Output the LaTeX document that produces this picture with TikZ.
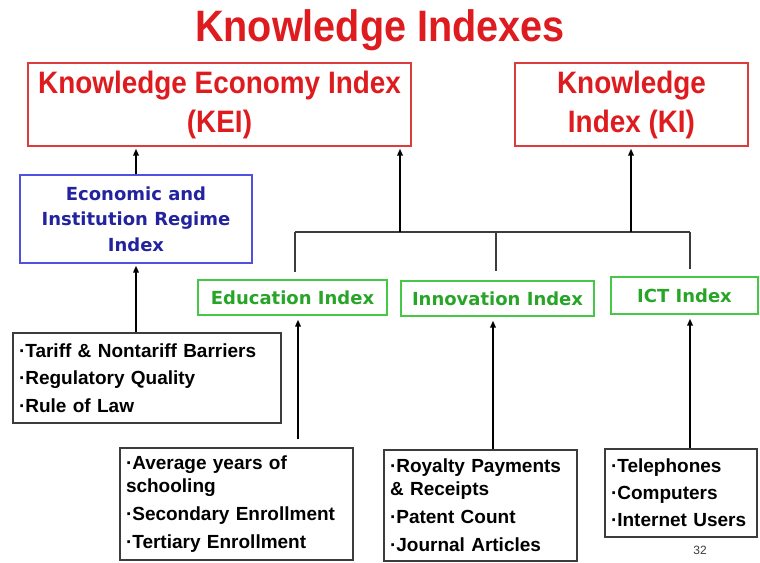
\documentclass[tikz,border=0pt]{standalone}
\usepackage{fontspec}
\setmainfont{Liberation Sans}
\newfontfamily\dvs{DejaVu Sans}
\newfontfamily\condsans{Liberation Sans}[FakeStretch=0.9]
\usetikzlibrary{arrows.meta}
\definecolor{kred}{RGB}{222,28,32}
\definecolor{kredline}{RGB}{220,60,60}
\definecolor{kblue}{RGB}{35,35,160}
\definecolor{kblueline}{RGB}{80,80,225}
\definecolor{kgreen}{RGB}{40,165,40}
\definecolor{kgreenline}{RGB}{70,200,70}
\definecolor{kgray}{RGB}{60,60,60}
\begin{document}
\begin{tikzpicture}[x=1pt,y=-1pt,
 redbox/.style={draw=kredline, line width=1.3pt, text=kred, font=\condsans\fontsize{31}{39}\selectfont\bfseries, align=center, inner sep=0pt},
 bluebox/.style={draw=kblueline, line width=1.3pt, text=kblue, font=\dvs\fontsize{18}{25.5}\selectfont\bfseries, align=center, inner sep=0pt},
 greenbox/.style={draw=kgreenline, line width=1.3pt, text=kgreen, font=\dvs\fontsize{18}{22}\selectfont\bfseries, align=center, inner sep=0pt},
 listbox/.style={draw=kgray, line width=1.3pt, font=\fontsize{19}{23}\selectfont\bfseries, align=left, inner xsep=6pt, inner ysep=0pt},
 arr/.style={line width=1.8pt, draw=black, -{Triangle[length=7pt,width=5.5pt]}},
 branch/.style={line width=1.4pt, draw=kgray}]
\useasboundingbox (0,0) rectangle (760,562);
\node[font=\condsans\fontsize{44}{44}\selectfont\bfseries, text=kred, anchor=base] (title) at (380,41) {Knowledge Indexes};
\node[redbox, minimum width=383pt, minimum height=83pt] (kei) at (219.5,104.5) {Knowledge Economy Index\\(KEI)};
\node[redbox, minimum width=233pt, minimum height=83pt] (ki) at (631.5,104.5) {Knowledge\\Index (KI)};
\node[bluebox, minimum width=232pt, minimum height=88pt] (eiri) at (136,219) {Economic and\\Institution Regime\\Index};
\node[greenbox, minimum width=189pt, minimum height=35pt] (edu) at (292.5,297.5) {Education Index};
\node[greenbox, minimum width=193pt, minimum height=35pt] (inno) at (497.5,298.5) {Innovation Index};
\node[greenbox, minimum width=147pt, minimum height=37pt] (ict) at (684.5,295.5) {ICT Index};
\node[listbox, text width=256pt, minimum height=90pt] (tariff) at (147,378) {·Tariff \& Nontariff Barriers\\[4.5pt]·Regulatory Quality\\[4.5pt]·Rule of Law};
\node[listbox, text width=221pt, minimum height=112pt] (avg) at (236.5,504) {·Average years of\\schooling\\[5pt]·Secondary Enrollment\\[5pt]·Tertiary Enrollment};
\node[listbox, text width=181pt, minimum height=111pt] (roy) at (480.5,505.5) {·Royalty Payments\\\& Receipts\\[5pt]·Patent Count\\[5pt]·Journal Articles};
\node[listbox, text width=140pt, minimum height=88pt] (ictl) at (681,493) {·Telephones\\[4pt]·Computers\\[4pt]·Internet Users};
\node[font=\fontsize{12}{12}\selectfont, text=kgray] (pg) at (700,550) {32};
\coordinate (bl) at (295,232);
\coordinate (bm) at (496,232);
\coordinate (br) at (690,232);
\coordinate (ak) at (400,232);
\coordinate (aki) at (631,232);
\coordinate (xe) at (298,0);
\coordinate (xi) at (493,0);
\coordinate (xc) at (690,0);
\draw[arr, shorten >=2pt] (eiri.north) -- (kei.south -| eiri.north);
\draw[arr, shorten >=2pt] (tariff.north -| eiri.south) -- (eiri.south);
\draw[branch] (bl) -- (br);
\draw[branch, shorten >=7pt] (bl) -- (edu.north -| bl);
\draw[branch, shorten >=9pt] (bm) -- (inno.north -| bm);
\draw[branch, shorten >=7pt] (br) -- (ict.north -| br);
\draw[arr, shorten >=2pt] (ak) -- (kei.south -| ak);
\draw[arr, shorten >=2pt] (aki) -- (ki.south -| aki);
\draw[arr, shorten <=8pt, shorten >=4pt] (avg.north -| xe) -- (edu.south -| xe);
\draw[arr, shorten >=4pt] (roy.north -| xi) -- (inno.south -| xi);
\draw[arr, shorten >=4pt] (ictl.north -| xc) -- (ict.south -| xc);
\end{tikzpicture}
\end{document}
